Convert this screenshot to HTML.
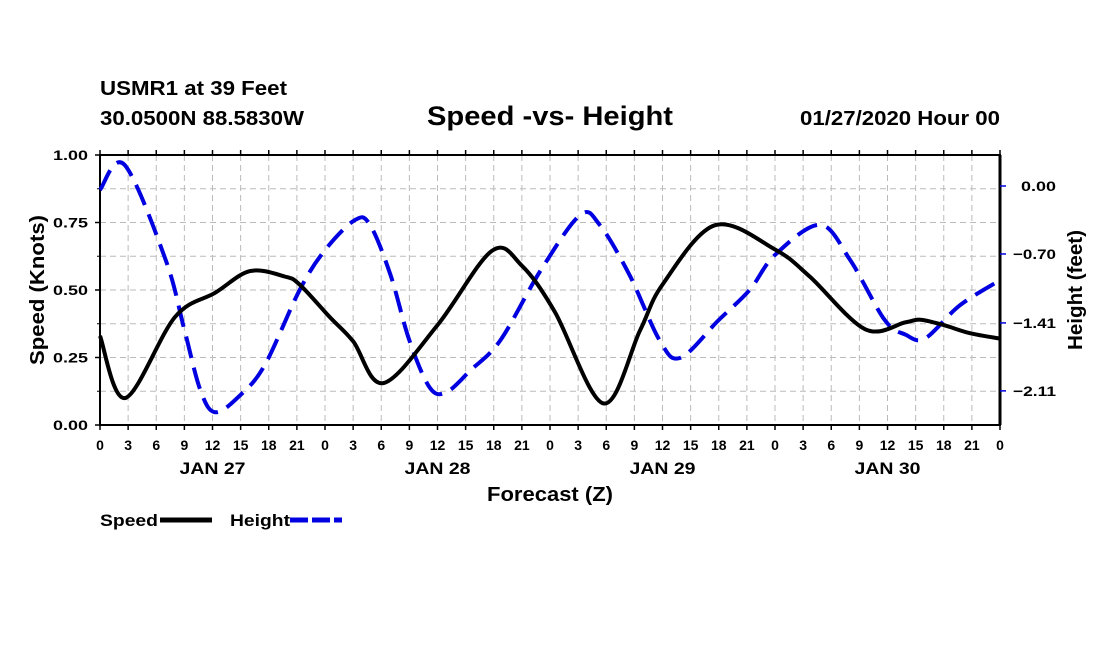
<!DOCTYPE html>
<html><head><meta charset="utf-8"><style>
body{margin:0;background:#fff}
text{font-family:"Liberation Sans",sans-serif;font-weight:bold;fill:#000}
</style></head><body>
<svg id="chart" width="1100" height="650" xmlns="http://www.w3.org/2000/svg">
<text x="100" y="95" font-size="20" textLength="187" lengthAdjust="spacingAndGlyphs">USMR1 at 39 Feet</text>
<text x="100" y="125" font-size="20" textLength="204" lengthAdjust="spacingAndGlyphs">30.0500N 88.5830W</text>
<text x="427" y="125" font-size="27" textLength="246" lengthAdjust="spacingAndGlyphs">Speed -vs- Height</text>
<text x="800" y="125" font-size="20" textLength="200" lengthAdjust="spacingAndGlyphs">01/27/2020 Hour 00</text>
<g id="grid"></g>
<g id="axes"></g>
<g id="series"></g>
<text transform="translate(44,290) rotate(-90)" font-size="20" text-anchor="middle" textLength="150" lengthAdjust="spacingAndGlyphs">Speed (Knots)</text>
<text transform="translate(1082,290) rotate(-90)" font-size="20" text-anchor="middle" textLength="120" lengthAdjust="spacingAndGlyphs">Height (feet)</text>
<text x="487" y="501" font-size="20" textLength="126" lengthAdjust="spacingAndGlyphs">Forecast (Z)</text>
<text x="100" y="526" font-size="17" textLength="58" lengthAdjust="spacingAndGlyphs">Speed</text>
<line x1="160" y1="520" x2="212" y2="520" stroke="#000" stroke-width="5"/>
<text x="230" y="526" font-size="17" textLength="60" lengthAdjust="spacingAndGlyphs">Height</text>
<line x1="290" y1="520" x2="342" y2="520" stroke="#0000e0" stroke-width="5" stroke-dasharray="18,4"/>
</svg>
<script>
const speedHours=[0,2.7,8,12.3,16,19.7,21.3,24.5,27,30.2,36,41.8,45,48.5,53.7,57.6,60,65.6,72,75.7,81.6,85.9,87.5,90,92.8,96];
const speedValues=[0.33,0.10,0.40,0.49,0.57,0.55,0.52,0.40,0.31,0.155,0.37,0.645,0.59,0.42,0.08,0.35,0.52,0.74,0.65,0.55,0.355,0.38,0.39,0.37,0.34,0.32];
const heightHours=[0,2.6,7,9,10.7,12.3,15,17.6,21.3,24,27.2,28.8,31,33,35.2,37,39.5,42.7,47,51.2,53.3,56.5,59.7,61.9,66,69.3,72,76.8,80,83.7,85.9,88,91.7,96];
const heightValues=[-0.04,0.22,-0.76,-1.48,-2.10,-2.33,-2.15,-1.84,-1.07,-0.66,-0.35,-0.40,-0.92,-1.59,-2.08,-2.12,-1.90,-1.59,-0.87,-0.30,-0.40,-0.92,-1.59,-1.77,-1.38,-1.07,-0.71,-0.40,-0.76,-1.38,-1.53,-1.57,-1.23,-0.97];
const leftTicks=[0,0.25,0.5,0.75,1.0];
const leftTickLabels=["0.00","0.25","0.50","0.75","1.00"];
const rightTicks=[0,-0.70,-1.41,-2.11];
const rightTickLabels=["0.00","\u22120.70","\u22121.41","\u22122.11"];
const xTickLabels=["0","3","6","9","12","15","18","21","0","3","6","9","12","15","18","21","0","3","6","9","12","15","18","21","0","3","6","9","12","15","18","21","0"];
const dayLabels=["JAN 27","JAN 28","JAN 29","JAN 30"];
const X0=100,X1=1000,Y0=155,Y1=425;
const xs=h=>X0+(X1-X0)*h/96;
const ysp=v=>Y1-(Y1-Y0)*v;
const yht=v=>186-97.1*v;
const NS="http://www.w3.org/2000/svg";
function mk(tag,attrs,parent){const e=document.createElementNS(NS,tag);for(const k in attrs)e.setAttribute(k,attrs[k]);parent.appendChild(e);return e;}
const grid=document.getElementById('grid'),axes=document.getElementById('axes'),series=document.getElementById('series');
for(let i=1;i<32;i++){const l=mk('line',{x1:xs(i*3),x2:xs(i*3),y1:Y0,y2:Y1,stroke:'#bbb','stroke-width':1,'stroke-dasharray':'6,4'},grid);

}
for(let i=1;i<8;i++){const l=mk('line',{x1:X0,x2:X1,y1:ysp(i*0.125),y2:ysp(i*0.125),stroke:'#bbb','stroke-width':1,'stroke-dasharray':'6,4'},grid);

}
const frame=mk('rect',{x:X0,y:Y0,width:X1-X0,height:Y1-Y0,fill:'none',stroke:'#000','stroke-width':2},axes);


mk('line',{x1:X1,x2:X1,y1:Y0,y2:Y1,stroke:'#000','stroke-width':3},axes);
leftTicks.forEach((v,i)=>{mk('line',{x1:X0-5,x2:X0,y1:ysp(v),y2:ysp(v),stroke:'#000','stroke-width':1.5},axes);
const t=mk('text',{x:X0-12,y:ysp(v)+5,'font-size':14,'text-anchor':'end',textLength:35,lengthAdjust:'spacingAndGlyphs'},axes);t.textContent=leftTickLabels[i];

});
for(let i=1;i<8;i+=2){mk('line',{x1:X0-3,x2:X0,y1:ysp(i*0.125),y2:ysp(i*0.125),stroke:'#000'},axes);}
rightTicks.forEach((v,i)=>{mk('line',{x1:X1,x2:X1+6,y1:yht(v),y2:yht(v),stroke:'#0000e0','stroke-width':1.5},axes);
const t=mk('text',{x:1056,y:yht(v)+5,'font-size':14,'text-anchor':'end',textLength:i==0?35:43,lengthAdjust:'spacingAndGlyphs'},axes);t.textContent=rightTickLabels[i];

});
xTickLabels.forEach((s,i)=>{const x=xs(i*3);
mk('line',{x1:x,x2:x,y1:Y1,y2:Y1+5,stroke:'#000','stroke-width':1.5},axes);
mk('line',{x1:x,x2:x,y1:Y0-5,y2:Y0,stroke:'#000','stroke-width':1.5},axes);
const t=mk('text',{x:x,y:450,'font-size':14,'text-anchor':'middle'},axes);t.textContent=s;

});
dayLabels.forEach((s,i)=>{const t=mk('text',{x:xs(12+24*i),y:474,'font-size':17,'text-anchor':'middle',textLength:66,lengthAdjust:'spacingAndGlyphs'},axes);t.textContent=s;

});
function smooth(px){let d='M'+px[0][0]+','+px[0][1];
for(let i=0;i<px.length-1;i++){const p0=px[Math.max(0,i-1)],p1=px[i],p2=px[i+1],p3=px[Math.min(px.length-1,i+2)];
d+=' C'+(p1[0]+(p2[0]-p0[0])/6)+','+(p1[1]+(p2[1]-p0[1])/6)+' '+(p2[0]-(p3[0]-p1[0])/6)+','+(p2[1]-(p3[1]-p1[1])/6)+' '+p2[0]+','+p2[1];}
return d;}
const hp=mk('path',{d:smooth(heightHours.map((h,i)=>[xs(h),yht(heightValues[i])])),fill:'none',stroke:'#0000e0','stroke-width':4,'stroke-dasharray':'22,10'},series);


const sp=mk('path',{d:smooth(speedHours.map((h,i)=>[xs(h),ysp(speedValues[i])])),fill:'none',stroke:'#000','stroke-width':4},series);


</script>
</body></html>
